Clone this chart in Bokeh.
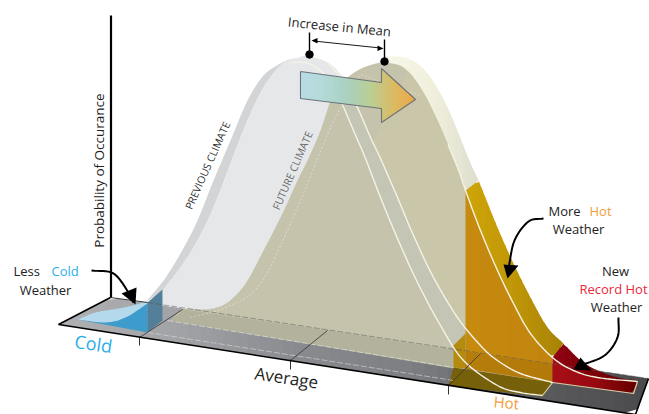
import numpy as np
from bokeh.plotting import figure
from bokeh.models import Range1d
from bokeh.core.properties import value
from bokeh.embed import file_html
from bokeh.resources import INLINE

# ---- outlines (x, y in picture units) ----
prev_back_x = [145,163,180,197,213,230,247,263,280,293,307]
prev_back_y = [302,280,253,220,180,140,100,75,63,58,57]
prev_front_x = [162,180,197,213,230,247,263,280,295,308,327,340,352]
prev_front_y = [290,267,240,207,163,120,87,65,58,56,62,74,92]
curve_a_x = [290,308,327,340,353,365,380,397,417,440,463,497,520,542]
curve_a_y = [62,63,77,100,130,158,197,238,282,325,360,385,392,395]
curve_b_x = [327,343,357,370,380,397,413,433,457,480,497,520,552]
curve_b_y = [62,80,107,137,158,197,235,277,317,345,360,373,382]
fut_left_x = [170,183,205,222,235,247,263,280,297,307,320,333,347,363,383]
fut_left_y = [320,309,309,305,295,280,250,217,180,160,130,93,77,67,61]
fut_inner_x = [383,403,420,437,457,465,480,497,513,530,552,573,597,637]
fut_inner_y = [61,67,87,120,167,190,230,270,303,333,357,370,377,381]
fut_outer_x = [373,393,410,427,447,470,478,497,513,530,547,563,580,597,617,637]
fut_outer_y = [58,56,59,73,107,163,180,227,263,297,327,343,360,370,377,380]
floor_x = [58,110,648,635]
floor_y = [324,297,378,414]
arrow_x = [300,381,381,415,381,381,300]
arrow_y = [71,82,68,99,122,108,98]

p = figure(width=649, height=414, x_range=Range1d(0,649), y_range=Range1d(414,0),
           toolbar_location=None, output_backend="svg", min_border=0,
           outline_line_color=None, background_fill_color="white")
p.axis.visible = False
p.grid.visible = False

def smooth(x, y, k=8):
    P = np.column_stack([x, y]).astype(float)
    P = np.vstack([2*P[0]-P[1], P, 2*P[-1]-P[-2]])
    out = []
    for i in range(1, len(P)-2):
        for t in np.linspace(0, 1, k, endpoint=False):
            a,b,c,d = P[i-1],P[i],P[i+1],P[i+2]
            out.append(0.5*((2*b)+(c-a)*t+(2*a-5*b+4*c-d)*t*t+(3*b-a-3*c+d)*t**3))
    out.append(P[-2])
    out = np.array(out)
    return out[:,0].tolist(), out[:,1].tolist()

def hexrgb(h): return np.array([int(h[i:i+2],16) for i in (1,3,5)],float)
def ramp(stops, t):
    pos = np.linspace(0,1,len(stops))
    rgb = [np.interp(t,pos,[hexrgb(s)[i] for s in stops]) for i in range(3)]
    return "#%02x%02x%02x" % tuple(int(round(v)) for v in rgb)

def strips(xt, yt, xb, yb, stops, n=40):
    lo, hi = max(min(xt),min(xb)), min(max(xt),max(xb))
    e = np.linspace(lo,hi,n+1)
    it = lambda v: np.interp(v,xt,yt)
    ib = lambda v: np.interp(v,xb,yb)
    xs,ys,cs=[],[],[]
    for i in range(n):
        a,b=e[i],e[i+1]
        b2=min(b+0.7,hi)
        xs.append([a,b2,b2,a]); ys.append([it(a),it(b2),ib(b2),ib(a)])
        cs.append(ramp(stops,(i+.5)/n))
    p.patches(xs,ys,fill_color=cs,line_color=None)

def poly(x,y,c,alpha=1.0):
    p.patch(x,y,fill_color=c,fill_alpha=alpha,line_color=None)

def line(x,y,c="black",w=1.0,dash="solid",alpha=1.0):
    p.line(x,y,line_color=c,line_width=w,line_dash=dash,line_alpha=alpha)

def txt(x,y,s,size,c="#222222",angle=0,font="Open Sans",align="center"):
    p.text([x],[y],text=[s],text_font=value(font),text_font_size=f"{size}px",text_color=c,
           angle=angle,angle_units="deg",text_align=align,text_baseline="middle")

# smoothed outlines
pbx,pby = smooth(prev_back_x,prev_back_y)
pfx,pfy = smooth(prev_front_x,prev_front_y)
ax,ay = smooth(curve_a_x,curve_a_y)
bx,by = smooth(curve_b_x,curve_b_y)
flx,fly = smooth(fut_left_x,fut_left_y)
fix,fiy = smooth(fut_inner_x,fut_inner_y)
fox,foy = smooth(fut_outer_x,fut_outer_y)

# floor
top_x=[58,110,648]; top_y=[324,297,378]
bot_x=[58,635,648]; bot_y=[324,414,378]
strips(top_x,top_y,bot_x,bot_y,["#b0b0b3","#a2a3a6","#8a8b90","#7d7e82","#5d5d60","#4a4a4c"],n=50)

# previous climate
poly(pbx+pfx[::-1],pby+pfy[::-1],"#d3d4d6")
poly(pfx+[352,225,162],pfy+[300,314,305],"#e5e7e9")

# cold area
poly([77,147,147],[319,332,302],"#3d9ccb")
cold_top_x,cold_top_y=smooth([77,95,112,128,147],[319,312,309,306,301])
cold_low_x,cold_low_y=smooth([77,105,125,147],[319,322,317,303])
poly(cold_top_x+cold_low_x[::-1],cold_top_y+cold_low_y[::-1],"#b5d9ec")
poly([147,162,162,147],[302,289,320,332],"#547f9a")

# future climate, cream band
k465=fix.index(min(fix,key=lambda v:abs(v-465)))
strips([v for v in fox if v<=478],foy[:sum(v<=478 for v in fox)],
       fix[:k465+1]+[478],fiy[:k465+1]+[180],["#f9f7e8","#f1f0dd","#dedecd"],n=30)

# future climate face
fx=flx+fix[:k465+1]
fy=fly+fiy[:k465+1]
poly(fx+[465,453,170],fy+[351,349,320],"#c5c3ac")
rt=[i for i,v in enumerate(bx) if v>=372]
poly([bx[i] for i in rt]+fix[10:k465+1][::-1],
     [by[i] for i in rt]+fiy[10:k465+1][::-1],"#cac6aa")
# the same face over the floor
poly([170,183,327,465,465],[320,309,330,351,370],"#b3b29d")
# band between the two right-hand curves
ka=[i for i,v in enumerate(ay) if v>=100 and ax[i]>=338]
kb=[i for i,v in enumerate(by) if v>=80]
poly([ax[i] for i in ka]+[bx[i] for i in kb][::-1],[ay[i] for i in ka]+[by[i] for i in kb][::-1],"#c5c5b5")
poly([345,352,ax[ka[0]]],[80,92,ay[ka[0]]],"#c5c5b5")

# inner dashed outline
dl_x,dl_y=smooth([190,225,260,297,330,352],[317,307,283,207,127,87])
line(dl_x,dl_y,"#ffffff",0.7,"2 2",0.6)
line([352,360,420],[87,74,95],"#ffffff",0.7,"2 2",0.5)

# hot areas
gx=[465,478]+[v for v in fox if 478<v<=563]
gy=[190,180]+[foy[i] for i,v in enumerate(fox) if 478<v<=563]
ix=[v for v in fix if 465<=v<=552]+[563]
iy=[fiy[i] for i,v in enumerate(fix) if 465<=v<=552]+[343]
strips(gx,gy,ix,iy,["#cfa509","#bf9607","#a88205"],n=30)
ix2=[v for v in fix if 465<=v<=552]
iy2=[fiy[i] for i,v in enumerate(fix) if 465<=v<=552]
strips(ix2,iy2,[465,552],[368,382],["#c68a0e","#c2840f"],n=6)
poly([453,465,465,453],[345,333,368,367],"#b48a0f")
poly([453,552,542,448],[367,382,396,385],"#77600a")
poly([465,552,552,465],[351,364,382,368],"#a87208",0.55)

# record area
rx=[552,563]+[v for v in fox if 563<v<=637]
ry=[357,343]+[foy[i] for i,v in enumerate(fox) if 563<v<=637]
rbx=[v for v in fix if 552<=v<=637]
rby=[fiy[i] for i,v in enumerate(fix) if 552<=v<=637]
strips(rx,ry,rbx,rby,["#8e0010","#7c0008","#5c0000"],n=24)
strips(rbx,rby,[552,633,637],[382,393,381],["#a80f17","#980a10","#620000"],n=24)
line([542,552,633,637],[395,382,393,381],"#d9cfa8",1.2)

# back edge of the floor seen through
line([110,147],[297,302],"#333333",1.0)
line([147,648],[302,378],"#555555",1.0,"6 2",0.5)

# white curves
line(ax,ay,"#f4f3e6",1.4)
line(bx,by,"#f4f3e6",1.4)
line(fix[28:],fiy[28:],"#f4f2e0",1.4)
line([167,453],[320,367],"#e8e8dc",0.8,"6 2",0.8)
line([147,453],[332,380],"#e0e0e0",0.7,"6 2",0.8)

# gradient arrow
atx=[300,381,381.01,415]; aty=[71,82,68,99]
abx=[300,381,381.01,415]; aby=[98,108,122,99]
strips(atx,aty,abx,aby,["#b9dbe6","#b4dad8","#a9d0c0","#b9cf96","#dabb66","#eda842"],n=45)
line(arrow_x+[arrow_x[0]],arrow_y+[arrow_y[0]],"#6d737a",1.1)

# floor ticks and cross lines
for xs,ys in [([139,182],[337,309]),([290,327],[360,330]),([448,480],[385,353])]:
    line(xs,ys,"#333333",0.8)
for xs,ys in [([139,139],[336,345]),([290,290],[359,369]),([448,448],[384,394])]:
    line(xs,ys,"#333333",1.0)

# floor outline, axis
line([110,58,635,648],[297,324,414,378],"black",1.6)
line([110.5,110.5],[15,297],"black",2.2)

# mean markers
line([309,309],[32,54],"black",1.4)
line([384,384],[39,61],"black",1.4)
p.scatter([309,384],[54,61],size=7.5,color="black")
line([313,380],[40.5,47.5],"black",0.9)
p.patch([311,317,317],[40,37.5,43],fill_color="black",line_color=None)
p.patch([383,377,377],[48,45,50.5],fill_color="black",line_color=None)

# curved arrows
for cx,cy in [([91,113,128,133],[270,273,292,302]),
              ([543,528,514,508],[218,221,240,268]),
              ([618,617,604,580],[317,337,355,365])]:
    sx,sy=smooth(cx,cy)
    line(sx,sy,"black",2.0)
p.patch([121,136,135],[293,287,304],fill_color="black",line_color=None)
p.patch([503,518,507],[264,265,278],fill_color="black",line_color=None)
p.patch([580,591,573],[357,370,369],fill_color="black",line_color=None)

# text
txt(339,26,"Increase in Mean",13,"#1f1f1f",-5.5)
txt(98,170,"Probability of Occurance",13.5,"#222222",90)
txt(207,165,"PREVIOUS CLIMATE",10.5,"#333333",65.7)
txt(292,170,"FUTURE CLIMATE",10.5,"#6a6a6a",66.4)
txt(13,270,"Less",13,"#222222",align="left")
txt(51,270,"Cold",13,"#29aee6",align="left")
txt(45,289,"Weather",13)
txt(93,343,"Cold",18,"#29aee6",-8.5)
txt(286,377,"Average",17,"#1f1f1f",-8.5)
txt(506,402,"Hot",15,"#f59c3c",-5)
txt(548,210,"More",13,"#222222",align="left")
txt(589,210,"Hot",13,"#f59c3c",align="left")
txt(578,228,"Weather",13)
txt(615,270,"New",13)
txt(613,288,"Record Hot",13,"#e8293c")
txt(616,306,"Weather",13)

open("out.html","w").write(file_html(p,INLINE))
